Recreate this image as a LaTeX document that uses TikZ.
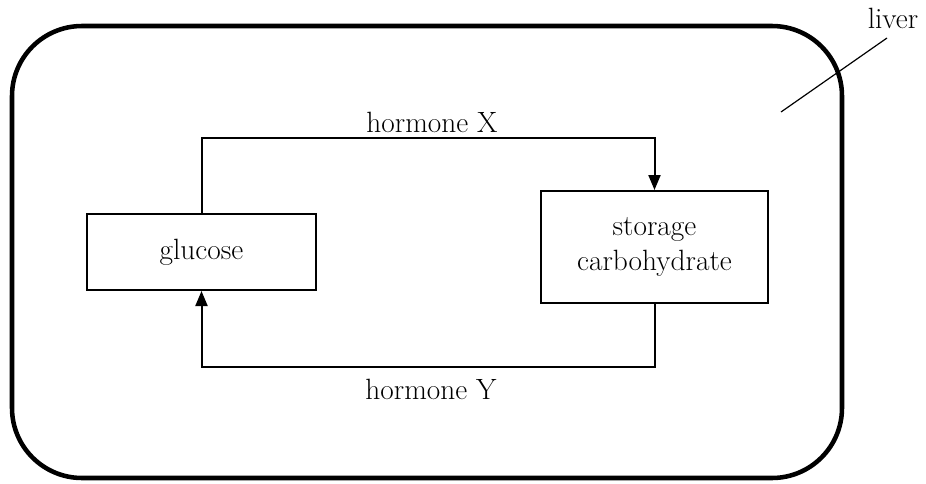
\documentclass[tikz,border=0pt]{standalone}
\usepackage{fontspec}
\usepackage{tikz}
\usetikzlibrary{positioning, arrows.meta}

\begin{document}
\begin{tikzpicture}[
  x=0.75pt, y=-0.75pt,
  font=\fontsize{22}{26}\selectfont,
  box/.style={draw, line width=1.5pt, align=center, inner sep=0pt},
  flow/.style={line width=1.5pt, -{Triangle[length=11.25pt, width=9pt]}},
  hlabel/.style={anchor=base},
]
  \useasboundingbox (0,0) rectangle (926,483);

  \node[draw, line width=3.4pt, rounded corners=52.5pt, minimum width=622.5pt,
    minimum height=339pt] (cell) at (427,252) {};

  \node[box, minimum width=171.5pt, minimum height=57pt] (glucose) at (201.5,252)
    {glucose};
  \node[box, minimum width=170pt, minimum height=84pt] (storage) at (654.5,247)
    {storage\\carbohydrate};

  \draw[flow] (glucose.north) -- ++(0,-75) -| (storage.north);
  \draw[flow] (storage.south) -- ++(0,63) -| (glucose.south);

  \node[hlabel] (hx) at (432,132) {hormone X};
  \node[hlabel] (hy) at (431,399) {hormone Y};

  \node[hlabel] (liver) at (893,28) {liver};
  \coordinate (ptr) at (781,112);
  \coordinate (ptrtop) at (887,38);
  \draw[line width=0.9pt] (ptr) -- (ptrtop);
\end{tikzpicture}
\end{document}
